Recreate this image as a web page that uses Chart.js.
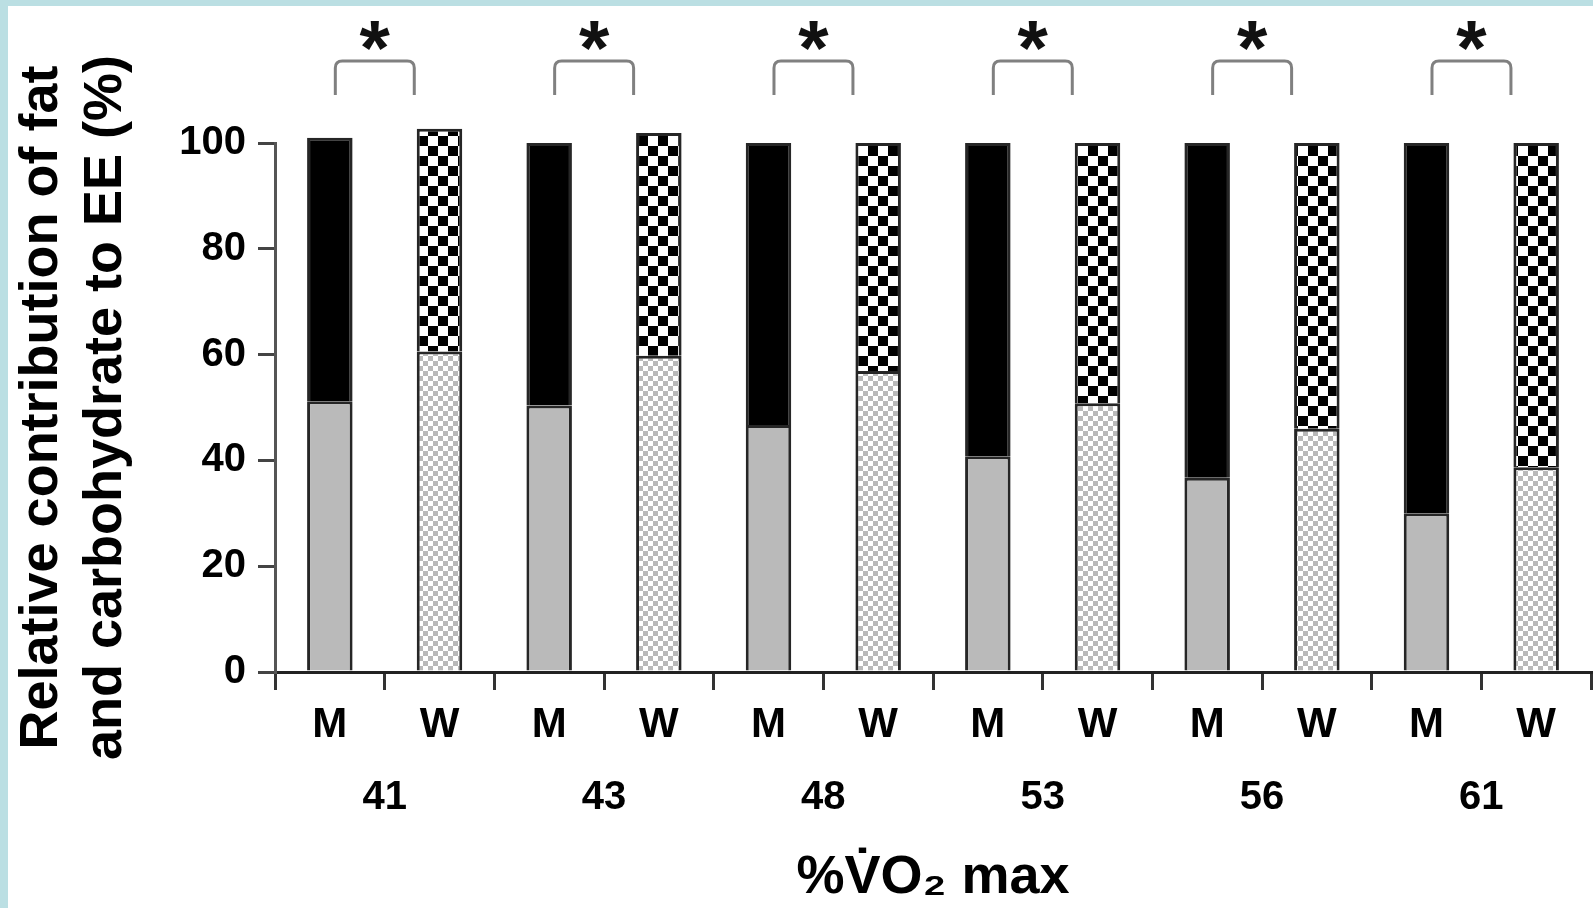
<!DOCTYPE html>
<html lang="en">
<head>
  <meta charset="UTF-8">
  <title>Fat and carbohydrate contribution to EE</title>
  <script src="https://cdn.jsdelivr.net/npm/chart.js"></script>
  <style>
    html, body {
      margin: 0;
      padding: 0;
      background-color: #bbdfe3;
      overflow: hidden;
    }
    #wrap {
      position: absolute;
      left: 8px;
      top: 6px;
      width: 1585px;
      height: 902px;
      background-color: white;
    }
  </style>
</head>
<body>
  <div id="wrap"><canvas id="grafico"></canvas></div>
  <script>
    // intensities (% VO2max) and sex labels
    const intensidades = ["41", "43", "48", "53", "56", "61"];
    const sexos = ["M", "W"];

    // relative contribution (%)
    const homensGordura = [51.2, 50.4, 46.7, 40.8, 36.7, 30.0];
    const homensCarbo = [49.8, 49.6, 53.3, 59.2, 63.3, 70.0];
    const mulheresGordura = [60.6, 59.8, 56.9, 50.8, 46.0, 38.7];
    const mulheresCarbo = [42.1, 42.1, 43.1, 49.2, 54.0, 61.3];

    const yTicks = [0, 20, 40, 60, 80, 100];

    const fonte = "'Liberation Sans', Arial, sans-serif";

    function padrao(tam, fundo, cor) {
      const c = document.createElement("canvas");
      c.width = tam * 2;
      c.height = tam * 2;
      const g = c.getContext("2d");
      g.fillStyle = fundo;
      g.fillRect(0, 0, tam * 2, tam * 2);
      g.fillStyle = cor;
      g.fillRect(0, 0, tam, tam);
      g.fillRect(tam, tam, tam, tam);
      return document.createElement("canvas").getContext("2d").createPattern(c, "repeat");
    }

    const xadrezClaro = padrao(5, "#ffffff", "#b9b9b9");
    const xadrezEscuro = padrao(10, "#ffffff", "#000000");

    // interleave M / W per intensity
    const labels = [];
    const gordura = [];
    const carbo = [];
    const corGordura = [];
    const corCarbo = [];
    intensidades.forEach((_, i) => {
      labels.push(sexos[0], sexos[1]);
      gordura.push(homensGordura[i], mulheresGordura[i]);
      carbo.push(homensCarbo[i], mulheresCarbo[i]);
      corGordura.push("#bababa", xadrezClaro);
      corCarbo.push("#000000", xadrezEscuro);
    });

    // brackets and asterisks over each pair
    const marcas = {
      id: "marcas",
      afterDraw(chart) {
        const ctx = chart.ctx;
        const x2 = chart.scales.x2;
        const larg = chart.scales.x.width / labels.length;
        ctx.save();
        intensidades.forEach((_, i) => {
          const cx = x2.getPixelForValue(i) - larg * 0.09;
          const meia = larg * 0.36;
          const topo = 55, base = 89, r = 7;
          ctx.beginPath();
          ctx.moveTo(cx - meia, base);
          ctx.lineTo(cx - meia, topo + r);
          ctx.quadraticCurveTo(cx - meia, topo, cx - meia + r, topo);
          ctx.lineTo(cx + meia - r, topo);
          ctx.quadraticCurveTo(cx + meia, topo, cx + meia, topo + r);
          ctx.lineTo(cx + meia, base);
          ctx.strokeStyle = "#808080";
          ctx.lineWidth = 3;
          ctx.stroke();

          ctx.font = "bold 78px " + fonte;
          ctx.fillStyle = "#111";
          ctx.textAlign = "center";
          ctx.textBaseline = "alphabetic";
          const m = ctx.measureText("*");
          ctx.fillText("*", cx, 30 + (m.actualBoundingBoxAscent - m.actualBoundingBoxDescent) / 2);
        });
        ctx.restore();
      }
    };

    new Chart(document.getElementById("grafico"), {
      type: "bar",
      data: {
        labels: labels,
        datasets: [
          {
            label: "Fat",
            data: gordura,
            backgroundColor: corGordura,
            borderColor: "#262626",
            borderWidth: 3,
            barPercentage: 0.415,
            categoryPercentage: 1,
            clip: false
          },
          {
            label: "Carbohydrate",
            data: carbo,
            backgroundColor: corCarbo,
            borderColor: "#262626",
            borderWidth: 3,
            barPercentage: 0.415,
            categoryPercentage: 1,
            clip: false
          }
        ]
      },
      options: {
        responsive: true,
        maintainAspectRatio: false,
        animation: false,
        layout: { padding: { top: 137, left: 0, right: 2, bottom: 0 } },
        plugins: {
          legend: { display: false },
          tooltip: { enabled: false }
        },
        scales: {
          x: {
            stacked: true,
            offset: true,
            grid: {
              display: true,
              drawOnChartArea: false,
              offset: true,
              tickLength: 18,
              color: "#333",
              lineWidth: 3
            },
            border: { display: true, color: "#222", width: 3 },
            ticks: {
              color: "#000",
              padding: 10,
              maxRotation: 0,
              font: { family: fonte, size: 42, weight: "bold" }
            },
            afterFit: s => { s.height = 99; }
          },
          x2: {
            type: "category",
            position: "bottom",
            labels: intensidades,
            offset: true,
            grid: { display: false, drawTicks: false },
            border: { display: false },
            ticks: {
              color: "#000",
              padding: 3,
              maxRotation: 0,
              font: { family: fonte, size: 40, weight: "bold" }
            },
            title: {
              display: true,
              text: "%V\u0307O\u2082 max",
              color: "#000",
              padding: { top: 0, bottom: -3 },
              font: { family: fonte, size: 54, weight: "bold" }
            },
            afterFit: s => { s.height = 137; }
          },
          y: {
            stacked: true,
            min: 0,
            max: 100,
            afterBuildTicks: s => { s.ticks = yTicks.map(v => ({ value: v })); },
            grid: {
              display: true,
              drawOnChartArea: false,
              tickLength: 17,
              color: "#444",
              lineWidth: 3
            },
            border: { display: true, color: "#555", width: 3 },
            ticks: {
              color: "#000",
              padding: 12,
              font: { family: fonte, size: 40, weight: "bold" }
            },
            title: {
              display: true,
              text: ["Relative contribution of fat", "and carbohydrate to EE (%)"],
              color: "#000",
              padding: { top: 3, bottom: 0 },
              font: { family: fonte, size: 54, weight: "bold", lineHeight: 1.17 }
            },
            afterFit: s => { s.width = 267; }
          }
        }
      },
      plugins: [marcas]
    });
  </script>
</body>
</html>
